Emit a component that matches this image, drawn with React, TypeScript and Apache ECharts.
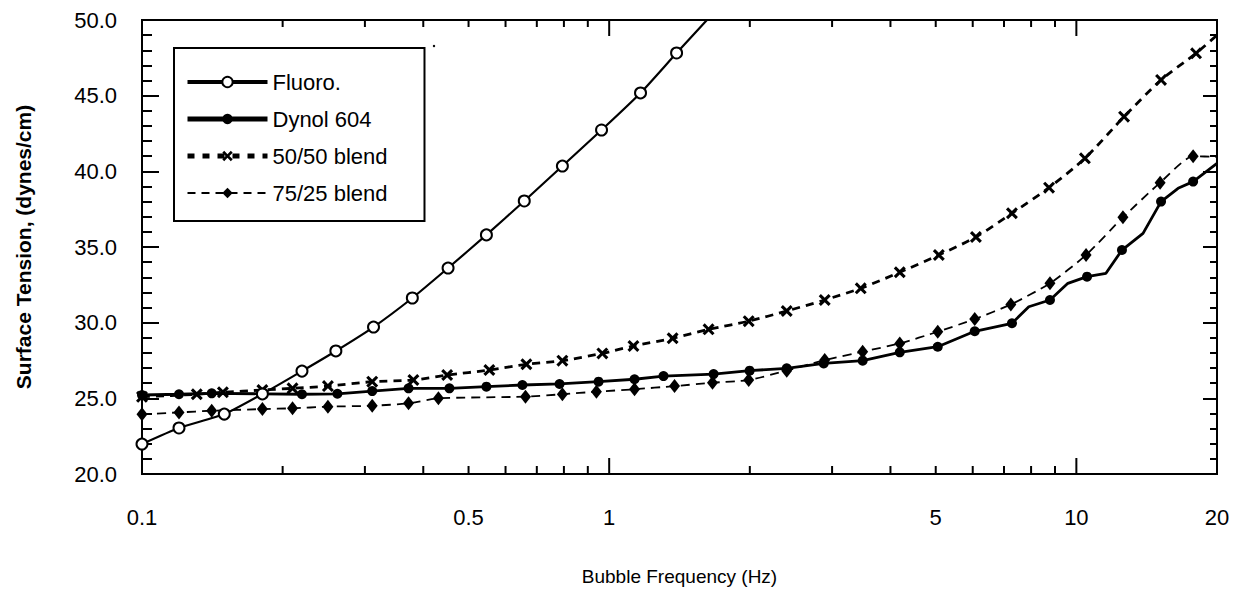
import React, { useEffect, useRef } from "react";
import * as echarts from "echarts";

const FONT = "'Liberation Sans', Arial, Helvetica, sans-serif";

const X_MIN = 0.1;
const X_MAX = 20;
const Y_MIN = 20;
const Y_MAX = 50;
const Y_INTERVAL = 5;

const xTickLabels = [0.1, 0.5, 1, 5, 10, 20];
const xMinorTicks = [0.2, 0.3, 0.4, 0.5, 0.6, 0.7, 0.8, 0.9, 2, 3, 4, 5, 6, 7, 8, 9];
const xMajorTicks = [1, 10];

const seriesNames = ["Fluoro.", "Dynol 604", "50/50 blend", "75/25 blend"];

const fluoroF = [0.1, 0.12, 0.15, 0.181, 0.22, 0.26, 0.313, 0.379, 0.452, 0.546, 0.658, 0.794, 0.963, 1.167, 1.394, 1.67];
const fluoroV = [21.98, 23.04, 23.96, 25.29, 26.8, 28.13, 29.71, 31.63, 33.61, 35.8, 38.04, 40.35, 42.73, 45.18, 47.82, 50.45];
const fluoroMark = [1, 1, 1, 1, 1, 1, 1, 1, 1, 1, 1, 1, 1, 1, 1, 0];

const dynolF = [0.1, 0.12, 0.141, 0.181, 0.22, 0.262, 0.311, 0.372, 0.455, 0.546, 0.652, 0.783, 0.949, 1.133, 1.307, 1.673, 1.998, 2.399, 2.879, 3.488, 4.188, 5.05, 6.06, 7.28, 7.91, 8.78, 9.59, 10.54, 11.57, 12.52, 13.89, 15.18, 16.51, 17.78, 20.0];
const dynolV = [25.22, 25.27, 25.33, 25.3, 25.27, 25.3, 25.48, 25.66, 25.66, 25.77, 25.88, 25.95, 26.1, 26.26, 26.47, 26.6, 26.83, 26.98, 27.31, 27.49, 28.04, 28.41, 29.43, 29.96, 31.05, 31.5, 32.6, 33.04, 33.26, 34.8, 35.9, 38.0, 38.88, 39.32, 40.53];
const dynolMark = [1, 1, 1, 1, 1, 1, 1, 1, 1, 1, 1, 1, 1, 1, 1, 1, 1, 1, 1, 1, 1, 1, 1, 1, 0, 1, 0, 1, 0, 1, 0, 1, 0, 1, 0];

const blend5050F = [0.1, 0.131, 0.149, 0.181, 0.21, 0.25, 0.311, 0.381, 0.45, 0.554, 0.665, 0.794, 0.967, 1.127, 1.367, 1.632, 1.989, 2.399, 2.893, 3.455, 4.188, 5.077, 6.095, 7.28, 8.74, 10.43, 12.65, 15.18, 18.04, 20.0];
const blend5050V = [25.1, 25.27, 25.4, 25.55, 25.66, 25.81, 26.1, 26.21, 26.54, 26.87, 27.25, 27.49, 27.97, 28.46, 28.97, 29.56, 30.1, 30.77, 31.5, 32.27, 33.33, 34.47, 35.66, 37.23, 38.92, 40.86, 43.61, 46.04, 47.8, 49.0];
const blend5050Mark = [1, 1, 1, 1, 1, 1, 1, 1, 1, 1, 1, 1, 1, 1, 1, 1, 1, 1, 1, 1, 1, 1, 1, 1, 1, 1, 1, 1, 1, 0];

const blend7525F = [0.1, 0.12, 0.141, 0.181, 0.21, 0.25, 0.311, 0.372, 0.431, 0.662, 0.794, 0.939, 1.133, 1.38, 1.664, 1.989, 2.399, 2.893, 3.488, 4.188, 5.05, 6.06, 7.24, 8.78, 10.49, 12.58, 15.11, 17.78, 20.0];
const blend7525V = [23.94, 24.07, 24.18, 24.29, 24.34, 24.45, 24.51, 24.67, 25.0, 25.11, 25.27, 25.44, 25.6, 25.81, 26.03, 26.21, 26.83, 27.53, 28.08, 28.63, 29.4, 30.24, 31.2, 32.6, 34.47, 36.96, 39.25, 41.0, 40.95];
const blend7525Mark = [1, 1, 1, 1, 1, 1, 1, 1, 1, 1, 1, 1, 1, 1, 1, 1, 1, 1, 1, 1, 1, 1, 1, 1, 1, 1, 1, 1, 0];

const X_SYMBOL =
  "path://M0,1.8L1.8,0L5,3.2L8.2,0L10,1.8L6.8,5L10,8.2L8.2,10L5,6.8L1.8,10L0,8.2L3.2,5Z";

function toData(f: number[], v: number[], mark: number[]) {
  return f.map((x, i) => (mark[i] ? [x, v[i]] : { value: [x, v[i]], symbol: "none" }));
}

function buildOption() {
  const tickData = [
    ...xMinorTicks.map((v) => [v, Y_MIN, 8, 7]),
    ...xMajorTicks.map((v) => [v, Y_MIN, 16, 16]),
  ];
  const labelData = xTickLabels.map((v) => [v, Y_MIN]);

  return {
    animation: false,
    backgroundColor: "#fff",
    textStyle: { fontFamily: FONT, color: "#000" },
    grid: {
      left: 142,
      top: 20,
      width: 1075,
      height: 454,
      show: true,
      borderColor: "#000",
      borderWidth: 2,
      backgroundColor: "transparent",
    },
    legend: {
      show: true,
      orient: "vertical",
      left: 174,
      top: 48,
      padding: [23, 37, 17, 11],
      itemGap: 15,
      itemWidth: 80,
      itemHeight: 13,
      borderColor: "#000",
      borderWidth: 2,
      borderRadius: 0,
      backgroundColor: "#fff",
      selectedMode: false,
      textStyle: { fontSize: 22, color: "#000", fontFamily: FONT, lineHeight: 22 },
      data: [
        { name: seriesNames[0], lineStyle: { width: 4 } },
        { name: seriesNames[1], lineStyle: { width: 5 } },
        { name: seriesNames[2], lineStyle: { width: 5, type: [7, 8] } },
        { name: seriesNames[3], lineStyle: { width: 2, type: [8, 6] } },
      ],
    },
    xAxis: [
      {
        type: "log",
        logBase: 10,
        min: X_MIN,
        max: X_MAX,
        position: "bottom",
        axisLine: { show: true, lineStyle: { color: "#000", width: 2 } },
        axisTick: { show: false },
        axisLabel: { show: false },
        splitLine: { show: false },
        minorTick: { show: false },
        minorSplitLine: { show: false },
        name: "Bubble Frequency (Hz)",
        nameLocation: "middle",
        nameGap: 93,
        nameTextStyle: { fontSize: 19, color: "#000", fontFamily: FONT },
      },
    ],
    yAxis: [
      {
        type: "value",
        min: Y_MIN,
        max: Y_MAX,
        interval: Y_INTERVAL,
        position: "left",
        axisLine: { show: true, lineStyle: { color: "#000", width: 2 } },
        axisTick: { show: true, inside: true, length: 17, lineStyle: { color: "#000", width: 2 } },
        minorTick: { show: true, splitNumber: 5, length: 10, lineStyle: { color: "#000", width: 2 } },
        splitLine: { show: false },
        axisLabel: {
          formatter: (v: number) => v.toFixed(1),
          fontSize: 22,
          color: "#000",
          margin: 25,
          fontFamily: FONT,
        },
        name: "Surface Tension, (dynes/cm)",
        nameLocation: "middle",
        nameGap: 108,
        nameRotate: 90,
        nameTextStyle: { fontSize: 21, fontWeight: "bold", color: "#000", fontFamily: FONT },
      },
      {
        type: "value",
        min: Y_MIN,
        max: Y_MAX,
        interval: Y_INTERVAL,
        position: "right",
        axisLine: { show: true, lineStyle: { color: "#000", width: 2 } },
        axisTick: { show: true, inside: true, length: 14, lineStyle: { color: "#000", width: 2 } },
        minorTick: { show: true, splitNumber: 5, length: 7, lineStyle: { color: "#000", width: 2 } },
        splitLine: { show: false },
        axisLabel: { show: false },
      },
    ],
    graphic: [
      { type: "circle", shape: { cx: 434, cy: 46, r: 1.2 }, style: { fill: "#000" } },
    ],
    series: [
      {
        name: seriesNames[3],
        type: "line",
        data: toData(blend7525F, blend7525V, blend7525Mark),
        symbol: "diamond",
        symbolSize: [11, 14],
        smooth: 0.2,
        itemStyle: { color: "#000" },
        lineStyle: { color: "#000", width: 1.8, type: [9, 6] },
        z: 2,
      },
      {
        name: seriesNames[2],
        type: "line",
        data: toData(blend5050F, blend5050V, blend5050Mark),
        symbol: X_SYMBOL,
        symbolSize: 12,
        smooth: 0.25,
        itemStyle: { color: "#000" },
        lineStyle: { color: "#000", width: 2.8, type: [8, 6] },
        z: 3,
      },
      {
        name: seriesNames[1],
        type: "line",
        data: toData(dynolF, dynolV, dynolMark),
        symbol: "circle",
        symbolSize: 10,
        itemStyle: { color: "#000" },
        lineStyle: { color: "#000", width: 2.8 },
        z: 4,
      },
      {
        name: seriesNames[0],
        type: "line",
        data: toData(fluoroF, fluoroV, fluoroMark),
        symbol: "circle",
        symbolSize: 11,
        smooth: 0.2,
        itemStyle: { color: "#fff", borderColor: "#000", borderWidth: 2 },
        lineStyle: { color: "#000", width: 2.2 },
        z: 5,
      },
      {
        type: "custom",
        name: "xTicks",
        silent: true,
        data: tickData,
        encode: { x: 0, y: 1 },
        renderItem: (params: any, api: any) => {
          const v = api.value(0);
          const lenB = api.value(2);
          const lenT = api.value(3);
          const b = api.coord([v, Y_MIN]);
          const t = api.coord([v, Y_MAX]);
          return {
            type: "group",
            children: [
              {
                type: "line",
                shape: { x1: b[0], y1: b[1], x2: b[0], y2: b[1] - lenB },
                style: { stroke: "#000", lineWidth: 2 },
              },
              {
                type: "line",
                shape: { x1: t[0], y1: t[1], x2: t[0], y2: t[1] + lenT },
                style: { stroke: "#000", lineWidth: 2 },
              },
            ],
          };
        },
        z: 6,
      },
      {
        type: "custom",
        name: "xLabels",
        silent: true,
        data: labelData,
        encode: { x: 0, y: 1 },
        renderItem: (params: any, api: any) => {
          const v = api.value(0);
          const b = api.coord([v, Y_MIN]);
          return {
            type: "text",
            x: b[0],
            y: b[1] + 43,
            style: {
              text: String(v),
              fontSize: 22,
              fontFamily: FONT,
              fill: "#000",
              align: "center",
              verticalAlign: "middle",
              textAlign: "center",
              textVerticalAlign: "middle",
            },
          };
        },
        z: 6,
      },
    ],
  };
}

export default function App() {
  const ref = useRef<HTMLDivElement>(null);
  useEffect(() => {
    document.body.style.margin = "0";
    if (!ref.current) return;
    const chart = echarts.init(ref.current, null, { renderer: "svg" });
    chart.setOption(buildOption() as any);
    return () => {
      chart.dispose();
    };
  }, []);
  return <div ref={ref} style={{ width: 1241, height: 594 }} />;
}
